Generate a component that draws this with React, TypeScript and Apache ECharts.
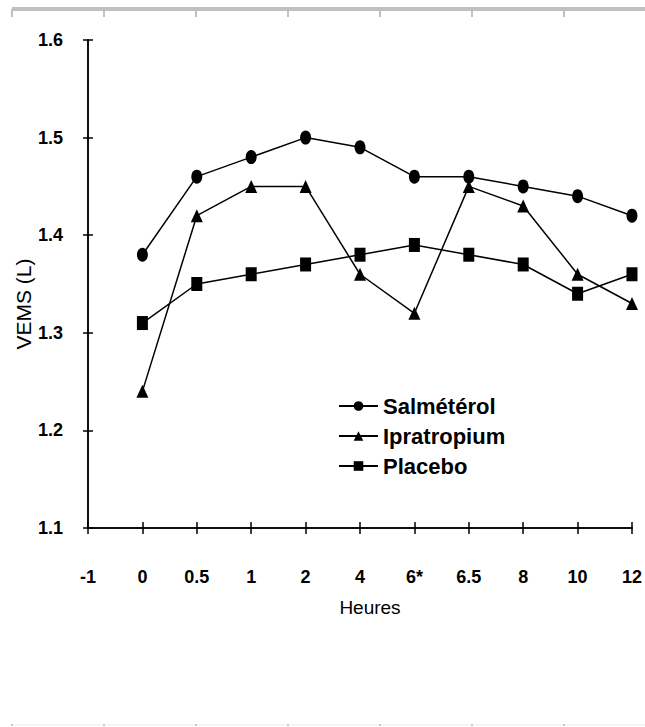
import React, { useEffect, useRef } from "react";
import * as echarts from "echarts";

const categories = ["-1", "0", "0.5", "1", "2", "4", "6*", "6.5", "8", "10", "12"];
const salmeterol = [null, 1.38, 1.46, 1.48, 1.5, 1.49, 1.46, 1.46, 1.45, 1.44, 1.42];
const ipratropium = [null, 1.24, 1.42, 1.45, 1.45, 1.36, 1.32, 1.45, 1.43, 1.36, 1.33];
const placebo = [null, 1.31, 1.35, 1.36, 1.37, 1.38, 1.39, 1.38, 1.37, 1.34, 1.36];
const yTicks = { min: 1.1, max: 1.6, interval: 0.1 };

const FONT = "'Liberation Sans', Arial, sans-serif";

export default function App() {
  const ref = useRef<HTMLDivElement>(null);
  useEffect(() => {
    if (!ref.current) return;
    const chart = echarts.init(ref.current, null, { renderer: "svg" });
    const lineStyle = { color: "#000", width: 1.5 };
    const axisLine = { show: true, lineStyle: { color: "#000", width: 1.5 } };
    const borderTicks = [12, 104, 196, 288, 380, 472, 564];
    chart.setOption({
      animation: false,
      backgroundColor: "#fff",
      grid: { left: 88, right: 13, top: 40, bottom: 199, containLabel: false },
      legend: {
        orient: "vertical",
        left: 333,
        top: 390,
        itemWidth: 39,
        itemHeight: 12,
        itemGap: 8,
        textStyle: { fontFamily: FONT, fontWeight: "bold", fontSize: 22, color: "#000" },
        data: ["Salmétérol", "Ipratropium", "Placebo"],
      },
      xAxis: [
        {
          type: "category",
          data: categories,
          boundaryGap: false,
          position: "bottom",
          axisLine,
          axisTick: { show: true, length: 6, lineStyle: { color: "#000", width: 1.5 } },
          axisLabel: { fontFamily: FONT, fontWeight: "bold", fontSize: 18, color: "#000", margin: 40 },
          splitLine: { show: false },
        },
        {
          type: "category",
          data: categories,
          boundaryGap: false,
          position: "bottom",
          axisLine,
          axisTick: { show: true, inside: true, length: 6, lineStyle: { color: "#000", width: 1.5 } },
          axisLabel: { show: false },
          splitLine: { show: false },
        },
      ],
      yAxis: [
        {
          type: "value",
          min: yTicks.min,
          max: yTicks.max,
          interval: yTicks.interval,
          axisLine,
          axisTick: { show: true, length: 5, lineStyle: { color: "#000", width: 1.5 } },
          axisLabel: {
            fontFamily: FONT, fontWeight: "bold", fontSize: 18, color: "#000", margin: 25,
            formatter: (v: number) => v.toFixed(1),
          },
          splitLine: { show: false },
        },
        {
          type: "value",
          min: yTicks.min,
          max: yTicks.max,
          interval: yTicks.interval,
          position: "left",
          axisLine,
          axisTick: { show: true, inside: true, length: 5, lineStyle: { color: "#000", width: 1.5 } },
          axisLabel: { show: false },
          splitLine: { show: false },
        },
      ],
      series: [
        {
          name: "Salmétérol", type: "line", data: salmeterol, symbol: "circle", symbolSize: [11, 14],
          lineStyle, itemStyle: { color: "#000" },
        },
        {
          name: "Ipratropium", type: "line", data: ipratropium, symbol: "triangle", symbolSize: [12, 13],
          lineStyle, itemStyle: { color: "#000" },
        },
        {
          name: "Placebo", type: "line", data: placebo, symbol: "rect", symbolSize: [11, 14],
          lineStyle, itemStyle: { color: "#000" },
        },
      ],
      graphic: [
        {
          type: "text", x: 23, y: 304, rotation: Math.PI / 2,
          style: { text: "VEMS (L)", font: `21px ${FONT}`, fill: "#000", textAlign: "center", textVerticalAlign: "middle" },
        },
        {
          type: "text", x: 370, y: 607,
          style: { text: "Heures", font: `19px ${FONT}`, fill: "#000", textAlign: "center", textVerticalAlign: "middle" },
        },
        {
          type: "line", shape: { x1: 12, y1: 9, x2: 645, y2: 9 },
          style: { stroke: "#c0c0c0", lineWidth: 4 },
        },
        ...borderTicks.map((x) => ({
          type: "line", shape: { x1: x, y1: 9, x2: x, y2: 17 },
          style: { stroke: "#c0c0c0", lineWidth: 2 },
        })),
        {
          type: "line", shape: { x1: 10, y1: 725, x2: 645, y2: 725 },
          style: { stroke: "#ececec", lineWidth: 1 },
        },
        ...borderTicks.map((x) => ({
          type: "line", shape: { x1: x - 1, y1: 725, x2: x + 1, y2: 725 },
          style: { stroke: "#c8c8c8", lineWidth: 2 },
        })),
      ],
    });
    return () => chart.dispose();
  }, []);
  return <div ref={ref} style={{ width: 645, height: 727, position: "absolute", left: 0, top: 0 }} />;
}
